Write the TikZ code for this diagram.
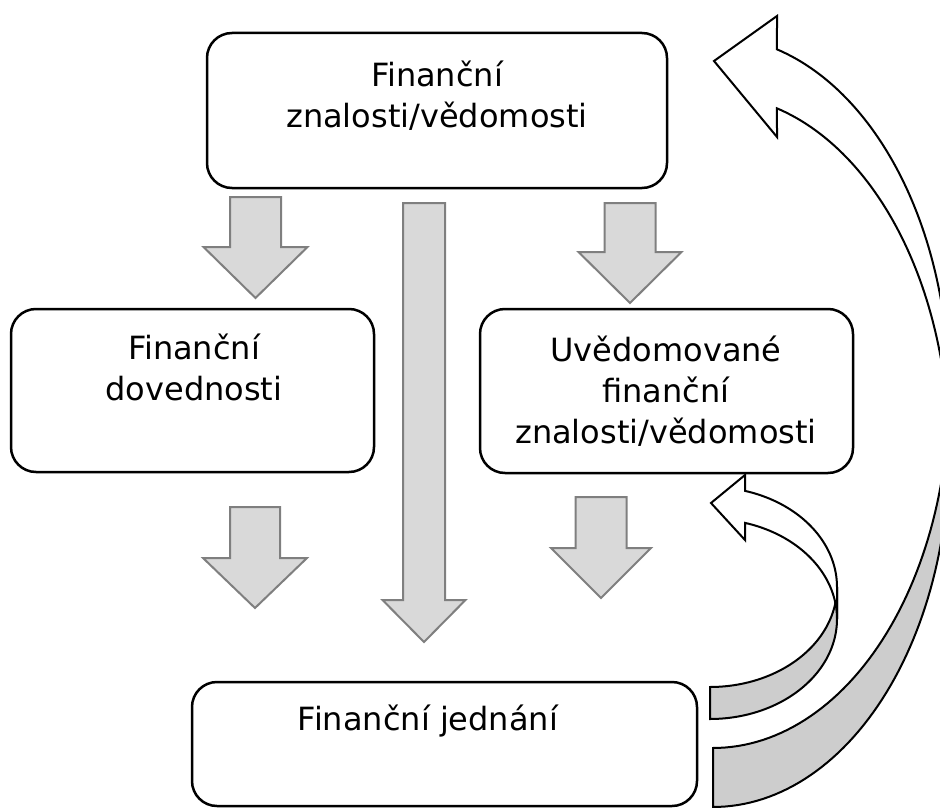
\documentclass[tikz,border=0pt]{standalone}
\usepackage{fontspec}
\setmainfont{DejaVu Sans}
\definecolor{arrfill}{HTML}{D9D9D9}
\definecolor{arrline}{HTML}{7F7F7F}
\definecolor{backgray}{HTML}{CDCDCD}
\newcommand{\blkdown}[6]{% cx, top, shoulder, tip, shaft half width, head half width
  \draw[blk] (#1-#5,#2) -- (#1+#5,#2) -- (#1+#5,#3) -- (#1+#6,#3) -- (#1,#4)
    -- (#1-#6,#3) -- (#1-#5,#3) -- cycle;}
\begin{document}
\begin{tikzpicture}[x=1pt,y=-1pt,
  box/.style={draw=black, line width=2.5pt, rounded corners=25pt, fill=white, inner sep=0pt},
  txt/.style={font=\fontsize{32}{41}\selectfont, inner sep=0pt, anchor=base},
  blk/.style={draw=arrline, line width=2pt, fill=arrfill, line join=miter},
  cfront/.style={draw=black, line width=2pt, fill=white, line join=miter},
  cback/.style={draw=black, line width=2pt, fill=backgray, line join=miter}]
\useasboundingbox (0,0) rectangle (940,808);
\clip (0,0) rectangle (940,808);

% boxes
\node[box, minimum width=460pt, minimum height=155pt] (know) at (437,110.5) {};
\node[box, minimum width=363pt, minimum height=163pt] (skill) at (192.5,390.5) {};
\node[box, minimum width=373pt, minimum height=164pt] (aware) at (666.5,391) {};
\node[box, minimum width=505pt, minimum height=124pt] (act) at (444.5,744) {};

% texts
\node[txt] (knowA) at (437,86) {Finanční};
\node[txt] (knowB) at (437,127) {znalosti/vědomosti};
\node[txt] (skillA) at (194,359) {Finanční};
\node[txt] (skillB) at (194,400) {dovednosti};
\node[txt] (awareA) at (666,361) {Uvědomované};
\node[txt] (awareB) at (666,402) {finanční};
\node[txt] (awareC) at (666,443) {znalosti/vědomosti};
\node[txt] (actA) at (428,730) {Finanční jednání};

% block arrows
\blkdown{255.5}{197}{247}{298}{25.5}{52}
\blkdown{630}{203}{252}{303}{25.5}{51.5}
\blkdown{424}{203}{600}{642}{21}{41.5}
\blkdown{255}{507}{558}{608}{25}{52}
\blkdown{601}{497}{548}{598}{25.5}{50}

% large curved arrow: back (gray) part
\draw[cback] (949,392)
  -- plot[domain=0:90, samples=60] ({713+236*cos(\x)},{392+356*sin(\x)})
  -- (713,807)
  -- plot[domain=0:90, samples=60] ({713+236*cos(90-\x)},{451+356*sin(90-\x)})
  -- cycle;
% large curved arrow: front (white) part
\draw[cfront] (777,16) -- (714,61) -- (777,137)
  -- plot[domain=0:74.27, samples=60] ({713+236*cos(\x-74.27)},{451+356*sin(\x-74.27)})
  -- (949,392)
  -- plot[domain=0:74.27, samples=60] ({713+236*cos(\x)},{392-356*sin(\x)})
  -- cycle;

% small curved arrow: back (gray) part
\draw[cback] (837,587)
  -- plot[domain=0:90, samples=50] ({710+127*cos(\x)},{587+100*sin(\x)})
  -- (710,719)
  -- plot[domain=0:90, samples=50] ({710+127*cos(90-\x)},{619+100*sin(90-\x)})
  -- cycle;
% small curved arrow: front (white) part
\draw[cfront] (745,475) -- (711,503) -- (745,540)
  -- plot[domain=0:74, samples=50] ({710+127*cos(\x-74)},{619+100*sin(\x-74)})
  -- (837,587)
  -- plot[domain=0:74, samples=50] ({710+127*cos(\x)},{587-100*sin(\x)})
  -- cycle;
\end{tikzpicture}
\end{document}
